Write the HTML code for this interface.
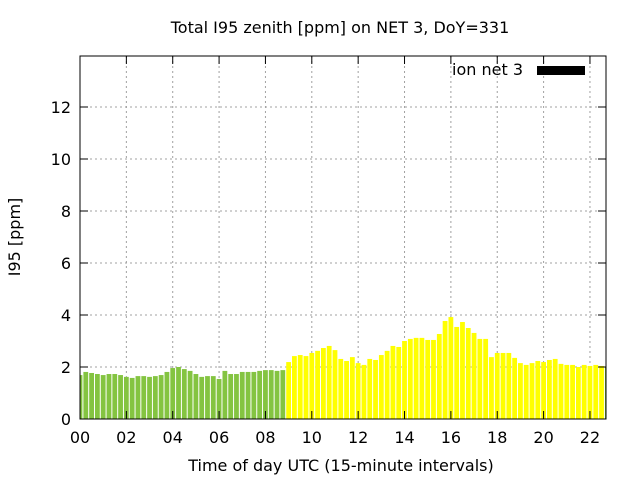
<!DOCTYPE html>
<html><head><meta charset="utf-8"><style>
body{margin:0;background:#fff}
svg{display:block;font-family:"DejaVu Sans","Liberation Sans",sans-serif}
</style></head><body>
<svg id="chart" width="640" height="480" xmlns="http://www.w3.org/2000/svg">
<rect width="640" height="480" fill="#fff"/>
<text x="340" y="33" font-size="16" text-anchor="middle">Total I95 zenith [ppm] on NET 3, DoY=331</text>
<text transform="translate(20,237) rotate(-90)" font-size="16" text-anchor="middle">I95 [ppm]</text>
<text x="341" y="471" font-size="16" text-anchor="middle">Time of day UTC (15-minute intervals)</text>
<g id="grid"></g>
<g id="bars"></g>
<g id="axes"></g>
<text x="523" y="75" font-size="16" text-anchor="end">ion net 3</text>
<rect x="537" y="66" width="48" height="9" fill="#000"/>
</svg>
<script>
const yTicks=[0,2,4,6,8,10,12];
const xTicks=[0,2,4,6,8,10,12,14,16,18,20,22];
const xTickLabels=["00","02","04","06","08","10","12","14","16","18","20","22"];
const values=[1.69,1.81,1.77,1.73,1.69,1.73,1.73,1.69,1.62,1.58,1.65,1.65,1.62,1.65,1.69,1.81,1.96,2.0,1.92,1.85,1.73,1.62,1.65,1.65,1.54,1.85,1.73,1.73,1.81,1.81,1.81,1.85,1.88,1.88,1.85,1.88,
2.19,2.42,2.46,2.42,2.54,2.62,2.73,2.81,2.65,2.31,2.23,2.38,2.15,2.08,2.31,2.27,2.46,2.62,2.81,2.77,3.0,3.08,3.12,3.12,3.04,
3.04,3.27,3.77,3.92,3.54,3.73,3.5,3.31,3.08,3.08,2.38,2.54,2.54,2.54,2.35,2.15,2.08,2.15,2.23,2.19,2.27,2.31,2.12,2.08,2.08,2.0,2.08,2.04,2.08,2.04,2.0];
const greenCount=36;
const L=80,R=606,T=56,B=419;
const xs=h=>L+h*23.18;
const ys=v=>B-v*26;
const NS="http://www.w3.org/2000/svg";
function mk(tag,attrs,parent){const e=document.createElementNS(NS,tag);for(const k in attrs)e.setAttribute(k,attrs[k]);parent.appendChild(e);return e;}
const grid=document.getElementById('grid'),bars=document.getElementById('bars'),axes=document.getElementById('axes');
yTicks.forEach(v=>{
 if(v>0){const g=mk('line',{x1:L,x2:R,y1:ys(v),y2:ys(v),stroke:'#a0a0a0','stroke-dasharray':'2,3'},grid);
 
 }
 const t=mk('text',{x:L-9,y:ys(v)+6,'font-size':16,'text-anchor':'end'},axes);t.textContent=v;
 
 
 mk('line',{x1:L,x2:L+8,y1:ys(v),y2:ys(v),stroke:'#000'},axes);
 mk('line',{x1:R,x2:R-8,y1:ys(v),y2:ys(v),stroke:'#000'},axes);
});
xTicks.forEach((h,i)=>{
 if(h>0){const g=mk('line',{x1:xs(h),x2:xs(h),y1:T,y2:B,stroke:'#a0a0a0','stroke-dasharray':'2,3'},grid);
 
 }
 const t=mk('text',{x:xs(h),y:443,'font-size':16,'text-anchor':'middle'},axes);t.textContent=xTickLabels[i];
 
 
 mk('line',{x1:xs(h),x2:xs(h),y1:B,y2:B-8,stroke:'#000'},axes);
 mk('line',{x1:xs(h),x2:xs(h),y1:T,y2:T+8,stroke:'#000'},axes);
});
mk('clipPath',{id:'cp'},bars);
mk('rect',{x:L,y:T,width:R-L,height:B-T},document.getElementById('cp'));
values.forEach((v,i)=>{
 const cx=xs(i/4);
 const r=mk('rect',{x:cx-2.4,y:ys(v),width:4.8,height:B-ys(v),fill:(i<greenCount||i>=91)?'#84c441':'#ffff00','clip-path':'url(#cp)'},bars);
 
 
});
const fr=mk('rect',{x:L,y:T,width:R-L,height:B-T,fill:'none',stroke:'#000','stroke-width':1},axes);


</script>
</body></html>
